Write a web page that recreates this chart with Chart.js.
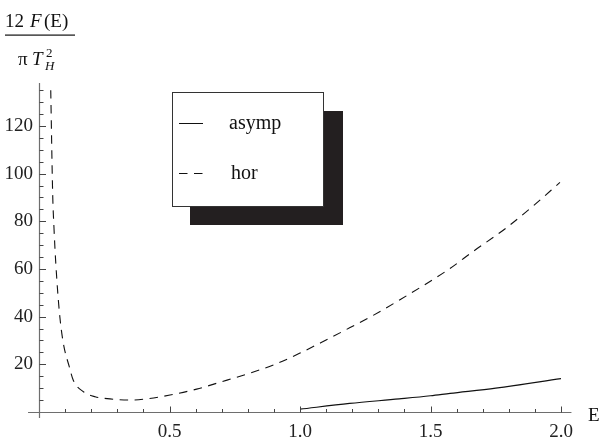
<!DOCTYPE html>
<html>
<head>
<meta charset="utf-8">
<script src="https://cdn.jsdelivr.net/npm/chart.js@4.4.1/dist/chart.umd.min.js"></script>
<style>
html,body{margin:0;padding:0;background:#fff;}
#wrap{width:600px;height:441px;}
</style>
</head>
<body>
<div id="wrap"><canvas id="c" width="600" height="441"></canvas></div>
<script>
// series
const names = ["asymp", "hor"];
const asympE = [1.0, 1.19, 1.38, 1.5, 1.575, 1.75, 2.0];
const asympF = [1.2, 3.6, 5.5, 6.8, 7.8, 10.0, 14.0];
const horE = [0.045, 0.0525, 0.0575, 0.064, 0.078, 0.093, 0.116, 0.131, 0.17, 0.215, 0.272, 0.349, 0.419, 0.502, 0.604, 0.70, 0.796, 0.898, 1.0, 1.10, 1.19, 1.28, 1.383, 1.568, 1.664, 1.79, 1.894, 1.996];
const horF = [135, 91, 77, 63, 42, 29, 19, 13.4, 8.5, 6.4, 5.5, 5.0, 5.6, 7.1, 9.6, 12.7, 15.9, 19.7, 24.7, 30.2, 35.3, 40.5, 47.1, 59.7, 67.4, 77.2, 86.5, 96.3];
const xTicks = [0.5, 1.0, 1.5, 2.0];
const yTicks = [20, 40, 60, 80, 100, 120];

const serif = '"Liberation Serif", "Times New Roman", serif';

function pts(xs, ys){ return xs.map((v,i)=>({x:v, y:ys[i]})); }

const deco = {
  id: "deco",
  afterDraw(chart) {
    const ctx = chart.ctx;
    const sx = chart.scales.x, sy = chart.scales.y;
    const x0 = Math.round(sx.getPixelForValue(0)) + 0.5;
    const y0 = Math.round(sy.getPixelForValue(0)) + 0.5;
    ctx.save();

    // axes
    ctx.strokeStyle = "#6e6e6e";
    ctx.lineWidth = 1.2;
    ctx.beginPath();
    ctx.moveTo(sx.getPixelForValue(-0.042), y0);
    ctx.lineTo(sx.getPixelForValue(2.04), y0);
    ctx.moveTo(x0, sy.getPixelForValue(138));
    ctx.lineTo(x0, sy.getPixelForValue(-2.5));
    ctx.stroke();

    // ticks, pointing into the plot
    ctx.strokeStyle = "#444";
    ctx.lineWidth = 1;
    ctx.beginPath();
    for (let i = 1; i <= 20; i++) {
      const px = Math.round(sx.getPixelForValue(i / 10)) + 0.5;
      const len = i % 5 === 0 ? 6 : 3.5;
      ctx.moveTo(px, y0); ctx.lineTo(px, y0 - len);
    }
    for (let i = 1; i <= 27; i++) {
      const py = Math.round(sy.getPixelForValue(i * 5)) + 0.5;
      const len = i % 4 === 0 ? 6.5 : 4;
      ctx.moveTo(x0, py); ctx.lineTo(x0 + len, py);
    }
    ctx.stroke();

    // y title: 12 F(E) / (pi T_H^2)
    ctx.fillStyle = "#111";
    ctx.textBaseline = "alphabetic";
    ctx.textAlign = "left";
    ctx.font = "19px " + serif;
    ctx.fillText("12", 5, 27);
    ctx.font = "italic 19px " + serif;
    ctx.fillText("F", 30, 27);
    ctx.font = "19px " + serif;
    ctx.fillText("(E)", 44, 27);
    ctx.fillRect(5, 34.5, 70, 1.2);
    ctx.fillText("\u03c0", 18, 65);
    ctx.font = "italic 19px " + serif;
    ctx.fillText("T", 32, 65);
    ctx.font = "13px " + serif;
    ctx.fillText("2", 46, 57);
    ctx.font = "italic 13px " + serif;
    ctx.fillText("H", 45, 70);

    // x title
    ctx.font = "19px " + serif;
    ctx.fillText("E", 588, 421);

    // legend with drop shadow
    const bx = 172, by = 92, bw = 151, bh = 114;
    ctx.fillStyle = "#231f20";
    ctx.fillRect(bx + 18, by + 19, bw + 2, bh);
    ctx.fillStyle = "#fff";
    ctx.fillRect(bx, by, bw, bh);
    ctx.strokeStyle = "#333";
    ctx.lineWidth = 1;
    ctx.strokeRect(bx + 0.5, by + 0.5, bw, bh);
    const rows = [123, 173];
    chart.data.datasets.forEach((ds, i) => {
      ctx.strokeStyle = "#111";
      ctx.lineWidth = 1;
      ctx.setLineDash(ds.borderDash || []);
      ctx.beginPath();
      ctx.moveTo(179, rows[i] + 0.5);
      ctx.lineTo(203, rows[i] + 0.5);
      ctx.stroke();
      ctx.setLineDash([]);
      ctx.fillStyle = "#111";
      ctx.font = "20px " + serif;
      ctx.fillText(ds.label, i === 0 ? 229 : 231, rows[i] + 6);
    });
    ctx.restore();
  }
};

new Chart(document.getElementById("c"), {
  type: "line",
  data: {
    datasets: [
      { label: names[0], data: pts(asympE, asympF), borderColor: "#111", borderWidth: 1.1,
        pointRadius: 0, cubicInterpolationMode: "monotone", fill: false },
      { label: names[1], data: pts(horE, horF), borderColor: "#111", borderWidth: 1.1,
        borderDash: [8.5, 6.5], pointRadius: 0, cubicInterpolationMode: "monotone", fill: false }
    ]
  },
  options: {
    responsive: false,
    animation: false,
    devicePixelRatio: 1,
    layout: { padding: { top: 83, right: 39, left: 0, bottom: 0 } },
    plugins: { legend: { display: false }, tooltip: { enabled: false } },
    scales: {
      x: {
        type: "linear", min: 0, max: 2.0,
        grid: { display: false, drawTicks: false },
        border: { display: false },
        afterBuildTicks: s => { s.ticks = xTicks.map(v => ({ value: v })); },
        afterFit: s => { s.height = 29; },
        ticks: { padding: 9, autoSkip: false, maxRotation: 0, color: "#222",
          font: { family: serif, size: 19 }, callback: v => v.toFixed(1) }
      },
      y: {
        type: "linear", min: 0, max: 138,
        grid: { display: false, drawTicks: false },
        border: { display: false },
        afterBuildTicks: s => { s.ticks = yTicks.map(v => ({ value: v })); },
        afterFit: s => { s.width = 39; },
        ticks: { padding: 6, autoSkip: false, color: "#222",
          font: { family: serif, size: 19 }, callback: v => String(v) }
      }
    }
  },
  plugins: [deco]
});
</script>
</body>
</html>
